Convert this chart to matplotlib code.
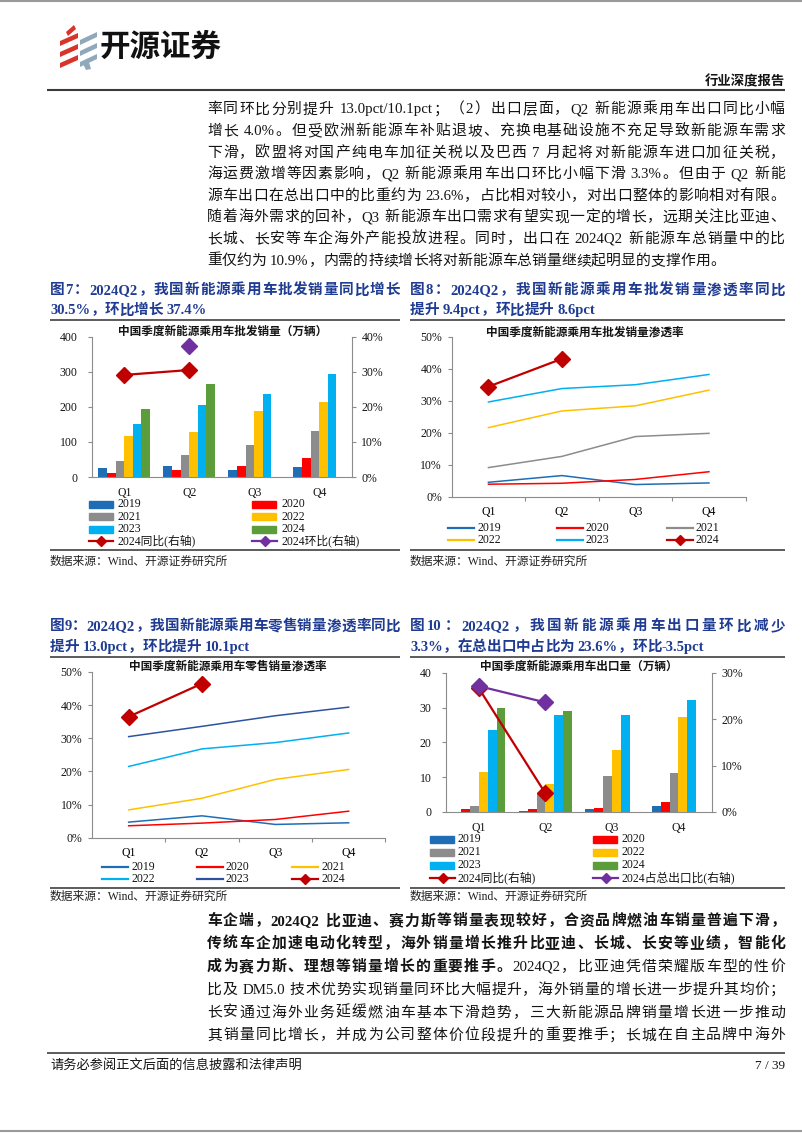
import re
import numpy as np
import matplotlib
matplotlib.use("Agg")
import matplotlib.pyplot as plt
from matplotlib.patches import Rectangle, Polygon
from matplotlib.lines import Line2D
from matplotlib.ticker import PercentFormatter

W, H = 802, 1133
FAM = ["Liberation Serif", "Noto Sans CJK SC"]
plt.rcParams["font.family"] = FAM
plt.rcParams["axes.unicode_minus"] = False

nan = np.nan
quarters = ["Q1", "Q2", "Q3", "Q4"]
years = ["2019", "2020", "2021", "2022", "2023", "2024"]

# fig 7: wholesale volume (10k units), one row per year
wholesale = [
    [25.6, 32, 21, 28],
    [11.4, 21, 31, 54],
    [46, 62.6, 90, 130],
    [118, 127, 187, 215],
    [151, 204, 237, 295],
    [194, 266, nan, nan],
]
wholesale_yoy = [0.291, 0.305, nan, nan]
wholesale_qoq = [nan, 0.374, nan, nan]

# fig 8: wholesale penetration
pen_wholesale = [
    [0.045, 0.066, 0.038, 0.043],
    [0.039, 0.042, 0.054, 0.078],
    [0.091, 0.126, 0.188, 0.198],
    [0.216, 0.268, 0.284, 0.333],
    [0.296, 0.338, 0.350, 0.382],
    [0.344, 0.431, nan, nan],
]

# fig 9: retail penetration
pen_retail = [
    [0.047, 0.066, 0.040, 0.045],
    [0.036, 0.044, 0.055, 0.080],
    [0.084, 0.119, 0.176, 0.206],
    [0.215, 0.268, 0.287, 0.316],
    [0.305, 0.336, 0.368, 0.394],
    [0.365, 0.465, nan, nan],
]

# fig 10: exports (10k units)
exports = [
    [0.05, 0.2, 0.76, 1.7],
    [0.86, 0.76, 1.24, 2.9],
    [1.6, 5.25, 10.2, 11.1],
    [11.6, 7.9, 17.9, 27.2],
    [23.6, 27.8, 27.9, 32.1],
    [29.9, 28.9, nan, nan],
]
export_yoy = [0.266, 0.040, nan, nan]
export_share = [0.271, 0.236, nan, nan]

bar_colors = ["#1f6db5", "#ff0000", "#8c8c8c", "#ffc000", "#00b0f0", "#5b9d3b"]
c8 = ["#1f6db5", "#ff0000", "#8c8c8c", "#ffc000", "#00b0f0", "#c00000"]
c9 = ["#1f6db5", "#ff0000", "#ffc000", "#00b0f0", "#2f52a0", "#c00000"]
DARKRED = "#c00000"
PURPLE = "#7030a0"
GRAY = "#8c8c8c"
BLUE = "#1f3c92"
INK = "#141414"

top_para = [
    "率同环比分别提升 13.0pct/10.1pct；（2）出口层面，Q2 新能源乘用车出口同比小幅",
    "增长 4.0%。但受欧洲新能源车补贴退坡、充换电基础设施不充足导致新能源车需求",
    "下滑，欧盟将对国产纯电车加征关税以及巴西 7 月起将对新能源车进口加征关税，",
    "海运费激增等因素影响，Q2 新能源乘用车出口环比小幅下滑 3.3%。但由于 Q2 新能",
    "源车出口在总出口中的比重约为 23.6%，占比相对较小，对出口整体的影响相对有限。",
    "随着海外需求的回补，Q3 新能源车出口需求有望实现一定的增长，远期关注比亚迪、",
    "长城、长安等车企海外产能投放进程。同时，出口在 2024Q2 新能源车总销量中的比",
    "重仅约为 10.9%，内需的持续增长将对新能源车总销量继续起明显的支撑作用。",
]
bottom_para = [
    [("车企端，2024Q2 比亚迪、赛力斯等销量表现较好，合资品牌燃油车销量普遍下滑，", "bold")],
    [("传统车企加速电动化转型，海外销量增长推升比亚迪、长城、长安等业绩，智能化", "bold")],
    [("成为赛力斯、理想等销量增长的重要推手。", "bold"), ("2024Q2，比亚迪凭借荣耀版车型的性价", "normal")],
    [("比及 DM5.0 技术优势实现销量同环比大幅提升，海外销量的增长进一步提升其均价；", "normal")],
    [("长安通过海外业务延缓燃油车基本下滑趋势，三大新能源品牌销量增长进一步推动", "normal")],
    [("其销量同比增长，并成为公司整体价位段提升的重要推手；长城在自主品牌中海外", "normal")],
]

fig = plt.figure(figsize=(W / 100, H / 100), dpi=100)
page = fig.add_axes([0, 0, 1, 1])
page.set_xlim(0, W)
page.set_ylim(H, 0)
page.axis("off")
page.patch.set_visible(False)
page.set_zorder(10)
renderer = fig.canvas.get_renderer()

TOKEN = re.compile(r"[A-Za-z0-9.%/\-]+| +|.")
LEFT, RIGHT = 207, 785


def text_line(segs, x0, y, x1=None, size=10.7, color=INK):
    # place token by token so a line can be justified between x0 and x1
    em = size * 100 / 72
    items = []
    for s, weight in segs:
        for tok in TOKEN.findall(s):
            if tok.isspace():
                items.append((None, 0.25 * em * len(tok)))
                continue
            t = page.text(0, y + 0.36 * em, tok, fontsize=size, fontweight=weight,
                          color=color, ha="left", va="baseline")
            w = em if ord(tok[0]) > 0x2E7F else t.get_window_extent(renderer).width
            items.append((t, w))
    gap = 0.0
    if x1 is not None and len(items) > 1:
        gap = (x1 - x0 - sum(w for _, w in items)) / (len(items) - 1)
    x = x0
    for t, w in items:
        if t is not None:
            t.set_x(x)
        x += w + gap


def hline(x0, x1, y, lw=1.0, color="#404040"):
    page.plot([x0, x1], [y, y], color=color, lw=lw, solid_capstyle="butt")


def px_axes(x0, y0, x1, y1):
    return fig.add_axes([x0 / W, 1 - y1 / H, (x1 - x0) / W, (y1 - y0) / H])


def leg_bar(x, y, color, label, tx):
    page.add_patch(Rectangle((x, y - 3.5), 24, 7, color=color))
    page.text(tx, y, label, fontsize=8.5, va="center", color=INK)


def leg_line(x0, x1, y, color, label, tx, marker=None):
    page.add_line(Line2D([x0, (x0 + x1) / 2, x1], [y, y, y], color=color, lw=1.6,
                         marker=marker, markevery=[1], ms=5))
    page.text(tx, y, label, fontsize=8.5, va="center", color=INK)


def base_style(ax, right=False):
    ax.spines["top"].set_visible(False)
    ax.spines["right"].set_visible(right)
    for s in ax.spines.values():
        s.set_color(GRAY)
        s.set_linewidth(0.8)
    ax.tick_params(labelsize=8.5, colors=INK)
    ax.tick_params(axis="y", length=3, width=0.8, color=GRAY)
    ax.patch.set_visible(False)


# ---------------- header ----------------
hline(0, W, 1, lw=1.5, color="#9a9a9a")
hline(0, W, 1131, lw=1.5, color="#9a9a9a")
for k in range(3):
    yc = 35 + 11 * k
    page.add_patch(Polygon([(60, yc + 6), (78, yc - 2), (78, yc + 3), (60, yc + 11)],
                           color="#d8352a", lw=0))
    page.add_patch(Polygon([(80, yc + 5), (97, yc - 3), (97, yc + 2), (80, yc + 10)],
                           color="#8fa9ba", lw=0))
page.add_patch(Polygon([(66, 32), (74, 25), (76, 29), (68, 36)], color="#d8352a", lw=0))
page.add_patch(Polygon([(82, 62), (88, 59), (91, 69), (86, 70)], color="#8fa9ba", lw=0))
page.text(100, 47, "开源证券", fontsize=22, fontweight="bold", color="#111111",
          ha="left", va="center", family=["Noto Sans CJK SC"])
page.text(RIGHT, 82, "行业深度报告", fontsize=9.6, fontweight="bold", color=INK,
          ha="right", va="center")
hline(47, RIGHT, 89.5, lw=1.5, color="#3a3a3a")

for i, line in enumerate(top_para):
    text_line([(line, "normal")], LEFT, 108 + 21.6 * i,
              None if i == len(top_para) - 1 else RIGHT)

# ---------------- figure headers ----------------
text_line([("图7：2024Q2，我国新能源乘用车批发销量同比增长", "bold")], 50, 289, 400, size=10.5, color=BLUE)
text_line([("30.5%，环比增长 37.4%", "bold")], 50, 309, size=10.5, color=BLUE)
text_line([("图8：2024Q2，我国新能源乘用车批发销量渗透率同比", "bold")], 410, 289, RIGHT, size=10.5, color=BLUE)
text_line([("提升 9.4pct，环比提升 8.6pct", "bold")], 410, 309, size=10.5, color=BLUE)
text_line([("图9：2024Q2，我国新能源乘用车零售销量渗透率同比", "bold")], 50, 625, 400, size=10.5, color=BLUE)
text_line([("提升 13.0pct，环比提升 10.1pct", "bold")], 50, 646, size=10.5, color=BLUE)
text_line([("图10：2024Q2，我国新能源乘用车出口量环比减少", "bold")], 410, 625, RIGHT, size=10.5, color=BLUE)
text_line([("3.3%，在总出口中占比为 23.6%，环比-3.5pct", "bold")], 410, 646, size=10.5, color=BLUE)
for yy in (320, 656.5, 550, 888):
    hline(50, 400, yy, lw=1.2)
    hline(410, RIGHT, yy, lw=1.2)
for ys in (562, 897):
    page.text(50, ys, "数据来源：Wind、开源证券研究所", fontsize=8.5, va="center", color="#222222")
    page.text(410, ys, "数据来源：Wind、开源证券研究所", fontsize=8.5, va="center", color="#222222")

x = np.arange(len(quarters))
bw = 0.133

# ---------------- fig 7 ----------------
ax = px_axes(91.7, 336.7, 351.7, 477)
for i, vals in enumerate(wholesale):
    ax.bar(x + (i - 2.5) * bw, vals, bw, color=bar_colors[i], zorder=2)
ax.set_xlim(-0.5, 3.5)
ax.set_ylim(0, 400)
ax.set_yticks(range(0, 401, 100))
ax.set_xticks(x)
ax.set_xticklabels(quarters)
base_style(ax)
ax.tick_params(axis="x", length=0, pad=7)
ax.tick_params(axis="y", pad=7)
ax2 = ax.twinx()
ax2.plot(x, wholesale_yoy, color=DARKRED, lw=1.6, marker="D", ms=8.5)
ax2.plot(x, wholesale_qoq, color=PURPLE, lw=1.6, marker="D", ms=8.5)
ax2.set_ylim(0, 0.4)
ax2.set_yticks(np.arange(0, 0.41, 0.1))
ax2.yaxis.set_major_formatter(PercentFormatter(1.0, decimals=0))
base_style(ax2, right=True)
ax2.spines["left"].set_visible(False)
ax2.spines["bottom"].set_visible(False)
ax2.tick_params(axis="y", pad=4)
page.text(222.5, 331.7, "中国季度新能源乘用车批发销量（万辆）", fontsize=8.4,
          fontweight="bold", ha="center", va="center", color=INK)
rows7 = [504, 516.5, 529, 541]
for i, yr in enumerate(years):
    r, c = divmod(i, 2)
    leg_bar([89, 252][c], rows7[r], bar_colors[i], yr, [118, 282][c])
leg_line(89, 113, rows7[3], DARKRED, "2024同比(右轴)", 118, "D")
leg_line(252, 277, rows7[3], PURPLE, "2024环比(右轴)", 282, "D")


def line_chart(box, data, colors, title, tx, ty, ylegend, legx):
    ax = px_axes(*box)
    for i, vals in enumerate(data):
        if i == len(data) - 1:
            ax.plot(x, vals, color=colors[i], lw=1.6, marker="D", ms=8, zorder=3)
        else:
            ax.plot(x, vals, color=colors[i], lw=1.1)
    ax.set_xlim(-0.5, 3.5)
    ax.set_ylim(0, 0.5)
    ax.set_yticks(np.arange(0, 0.51, 0.1))
    ax.yaxis.set_major_formatter(PercentFormatter(1.0, decimals=0))
    ax.set_xticks([0.5, 1.5, 2.5, 3.5])
    ax.set_xticklabels([])
    ax.set_xticks(x, minor=True)
    ax.set_xticklabels(quarters, minor=True)
    base_style(ax)
    ax.tick_params(axis="x", which="major", length=3, width=0.8, color=GRAY)
    ax.tick_params(axis="x", which="minor", length=0, pad=7, labelsize=8.5)
    ax.tick_params(axis="y", pad=4)
    page.text(tx, ty, title, fontsize=8.4, fontweight="bold", ha="center",
              va="center", color=INK)
    for i, yr in enumerate(years):
        r, c = divmod(i, 3)
        hx = legx[c]
        leg_line(hx, hx + 26, ylegend[r], colors[i], yr, hx + 29,
                 "D" if i == len(years) - 1 else None)
    return ax


# ---------------- fig 8 ----------------
line_chart((451.7, 336.7, 745.7, 496.7), pen_wholesale, c8,
           "中国季度新能源乘用车批发销量渗透率", 585, 333, [528, 540], [448, 557, 667])

# ---------------- fig 9 ----------------
line_chart((92, 672, 385.3, 837.7), pen_retail, c9,
           "中国季度新能源乘用车零售销量渗透率", 228, 667, [867, 879], [102, 197, 292])

# ---------------- fig 10 ----------------
ax = px_axes(445.7, 672.7, 711.7, 812)
for i, vals in enumerate(exports):
    ax.bar(x + (i - 2.5) * bw, vals, bw, color=bar_colors[i], zorder=2)
ax.set_xlim(-0.5, 3.5)
ax.set_ylim(0, 40)
ax.set_yticks(range(0, 41, 10))
ax.set_xticks(x)
ax.set_xticklabels(quarters)
base_style(ax)
ax.tick_params(axis="x", length=0, pad=7)
ax.tick_params(axis="y", pad=7)
ax2 = ax.twinx()
ax2.plot(x, export_yoy, color=DARKRED, lw=1.6, marker="D", ms=8)
ax2.plot(x, export_share, color=PURPLE, lw=1.6, marker="D", ms=8)
ax2.set_ylim(0, 0.3)
ax2.set_yticks(np.arange(0, 0.31, 0.1))
ax2.yaxis.set_major_formatter(PercentFormatter(1.0, decimals=0))
base_style(ax2, right=True)
ax2.spines["left"].set_visible(False)
ax2.spines["bottom"].set_visible(False)
ax2.tick_params(axis="y", pad=4)
page.text(579, 667, "中国季度新能源乘用车出口量（万辆）", fontsize=8.4,
          fontweight="bold", ha="center", va="center", color=INK)
rows10 = [839, 852, 865, 877.5]
for i, yr in enumerate(years):
    r, c = divmod(i, 2)
    leg_bar([430, 593][c], rows10[r], bar_colors[i], yr, [457, 622][c])
leg_line(430, 455, rows10[3], DARKRED, "2024同比(右轴)", 457, "D")
leg_line(593, 618, rows10[3], PURPLE, "2024占总出口比(右轴)", 622, "D")

# ---------------- bottom text ----------------
for i, segs in enumerate(bottom_para):
    text_line(segs, LEFT, 920 + 22.8 * i, RIGHT)
hline(47, RIGHT, 1053, lw=1.2)
page.text(50, 1066, "请务必参阅正文后面的信息披露和法律声明", fontsize=9.5,
          va="center", color=INK)
page.text(RIGHT, 1066, "7 / 39", fontsize=9.5, va="center", ha="right", color=INK)

fig.savefig("out.png", dpi=100)
